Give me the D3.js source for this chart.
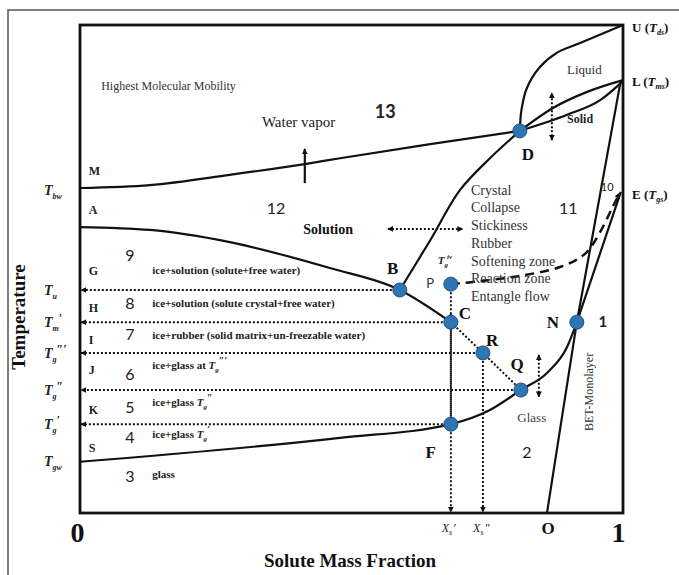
<!DOCTYPE html>
<meta charset="utf-8">
<style>
    body { margin: 0; background: #fff; }
    svg { display: block; }
    .serif { font-family: "Liberation Serif", "Times New Roman", serif; }
    .sans { font-family: Lato, "Open Sans", sans-serif; }
</style>
<svg class="chart" width="679" height="575"></svg>
<script src="https://d3js.org/d3.v7.min.js"></script>
<script>

    // solute mass fraction (0..1) vs temperature (arbitrary units 0..100)
    const boilingX = [0, 0.129, 0.276, 0.414, 0.479, 0.645, 0.810];
    const boilingY = [66.6, 67.2, 69.3, 71.5, 72.7, 75.6, 78.3];

    const decompX = [0.810, 0.813, 0.823, 0.847, 0.878, 0.921, 1.0];
    const decompY = [78.3, 82.6, 87.1, 91.4, 94.3, 96.3, 100];

    const liquidusX = [0.810, 0.871, 0.934, 1.0];
    const liquidusY = [78.3, 83.0, 86.3, 88.7];

    const solidusX = [0.810, 0.897, 0.958, 1.0];
    const solidusY = [78.3, 81.6, 84.6, 88.5];

    const solubilityX = [0.810, 0.755, 0.700, 0.645, 0.589];
    const solubilityY = [78.3, 72.7, 66.2, 55.9, 45.7];

    const freezingX = [0, 0.129, 0.276, 0.460, 0.589, 0.683];
    const freezingY = [58.6, 58.0, 55.5, 50.2, 45.7, 39.1];

    const glassX = [0, 0.479, 0.683, 0.755, 0.812, 0.860, 0.897, 0.915, 0.996];
    const glassY = [10.5, 15.4, 18.2, 21.1, 25.2, 28.7, 34.0, 39.1, 65.8];

    const betX = [0.860, 0.915, 0.996];
    const betY = [0, 39.1, 88.7];

    const softX = [0.683, 0.737, 0.810, 0.884, 0.930, 0.958, 0.980, 0.994];
    const softY = [46.9, 47.5, 48.6, 50.4, 53.1, 57.6, 62.5, 65.6];

    const pointNames = ["D", "B", "P", "C", "R", "Q", "F", "N"];
    const pointX = [0.810, 0.589, 0.683, 0.683, 0.742, 0.812, 0.683, 0.915];
    const pointY = [78.3, 45.7, 46.9, 39.1, 32.8, 25.2, 18.2, 39.1];

    // temperature levels on the y axis: [base, subscript, superscript]
    const levelValues = [66.6, 45.7, 39.1, 32.8, 25.2, 18.2, 10.5];
    const levelSub = ["bw", "u", "m", "g", "g", "g", "gw"];
    const levelSup = ["", "", "\u2032", "\u2033\u2032", "\u2033", "\u2032", ""];

    // horizontal dotted arrows: from point to the axis
    const levelFrom = ["B", "C", "R", "Q", "F"];
    // vertical dotted arrows: from point down to the axis
    const dropFrom = ["P", "R"];

    const regionNumbers = ["13", "12", "11", "10", "9", "8", "7", "6", "5", "4", "3", "2", "1"];
    const regionX = [0.562, 0.361, 0.899, 0.971, 0.092, 0.092, 0.092, 0.092, 0.092, 0.092, 0.092, 0.823, 0.963];
    const regionY = [82.2, 62.5, 62.5, 66.8, 52.7, 43.0, 36.5, 28.3, 21.7, 15.4, 7.6, 12.5, 39.1];

    const sideLetters = ["M", "A", "G", "H", "I", "J", "K", "S"];
    const sideY = [70.1, 62.1, 49.6, 42.0, 35.5, 29.3, 21.1, 13.3];

    const zoneText = ["ice+solution (solute+free water)", "ice+solution (solute crystal+free water)",
        "ice+rubber (solid matrix+un-freezable water)", "ice+glass at ", "ice+glass ", "ice+glass ", "glass"];
    const zoneSup = ["", "", "", "\u2033\u2032", "\u2033", "\u2032", ""];
    const zoneY = [49.8, 43.0, 36.5, 30.3, 22.7, 16.2, 8.0];

    const stateWords = ["Crystal", "Collapse", "Stickiness", "Rubber", "Softening zone", "Reaction zone", "Entangle flow"];
    const stateY = [66.2, 62.7, 59.0, 55.3, 51.6, 48.2, 44.5];

    const svg = d3.select(".chart");

    const x = d3.scaleLinear().domain([0, 1]).range([80, 623]);
    const y = d3.scaleLinear().domain([0, 100]).range([513, 25]);

    const defs = svg.append("defs");
    const marker = (id, orient) => defs.append("marker")
        .attr("id", id)
        .attr("viewBox", "0 0 10 10")
        .attr("refX", 9).attr("refY", 5)
        .attr("markerWidth", 6).attr("markerHeight", 6)
        .attr("markerUnits", "userSpaceOnUse")
        .attr("orient", orient)
        .append("path")
        .attr("d", "M0,0 L10,5 L0,10 Z")
        .attr("fill", "#111");
    marker("arrow", "auto");
    marker("arrowStart", "auto-start-reverse");

    // outer frame (cropped figure border)
    svg.append("path")
        .attr("d", "M8,575 L8,10 L679,10")
        .attr("fill", "none")
        .attr("stroke", "#555")
        .attr("stroke-width", 1.5);

    const line = d3.line().x(d => x(d[0])).y(d => y(d[1]));
    const smooth = d3.line().x(d => x(d[0])).y(d => y(d[1])).curve(d3.curveMonotoneX);
    const smoothY = d3.line().x(d => x(d[0])).y(d => y(d[1])).curve(d3.curveCatmullRom);
    const zip = (a, b) => a.map((v, i) => [v, b[i]]);

    const curves = [
        [zip(boilingX, boilingY), smooth],
        [zip(decompX, decompY), smoothY],
        [zip(liquidusX, liquidusY), smooth],
        [zip(solidusX, solidusY), smooth],
        [zip(solubilityX, solubilityY), smoothY],
        [zip(freezingX, freezingY), smooth],
        [zip(glassX.slice(0, 8), glassY.slice(0, 8)), smooth],
        [zip(glassX.slice(7), glassY.slice(7)), line],
        [zip(betX, betY), line]
    ];

    svg.append("g").selectAll("path")
        .data(curves)
        .join("path")
        .attr("d", d => d[1](d[0]))
        .attr("fill", "none")
        .attr("stroke", "#111")
        .attr("stroke-width", 2.2);

    // softening / reaction dashed curve toward E
    svg.append("path")
        .attr("d", smoothY(zip(softX, softY)))
        .attr("fill", "none")
        .attr("stroke", "#111")
        .attr("stroke-width", 2.5)
        .attr("stroke-dasharray", "9,6")
        .attr("marker-end", "url(#arrow)");

    const pt = name => {
        const i = pointNames.indexOf(name);
        return [pointX[i], pointY[i]];
    };

    const dotted = svg.append("g")
        .attr("fill", "none")
        .attr("stroke", "#111")
        .attr("stroke-width", 2)
        .attr("stroke-dasharray", "2,2");

    levelFrom.forEach(n => {
        const p = pt(n);
        dotted.append("line")
            .attr("x1", x(p[0])).attr("y1", y(p[1]))
            .attr("x2", x(0) + 1).attr("y2", y(p[1]))
            .attr("marker-end", "url(#arrow)");
    });

    dropFrom.forEach(n => {
        const p = pt(n);
        dotted.append("line")
            .attr("x1", x(p[0])).attr("y1", y(p[1]))
            .attr("x2", x(p[0])).attr("y2", y(0) - 1)
            .attr("marker-end", "url(#arrow)");
    });

    // up arrow toward C and the C-R-Q tie line
    dotted.append("line")
        .attr("x1", x(pt("C")[0])).attr("y1", y(pt("F")[1]))
        .attr("x2", x(pt("C")[0])).attr("y2", y(pt("C")[1]) - 9)
        .attr("marker-end", "url(#arrow)");
    dotted.append("path")
        .attr("d", line([pt("C"), pt("R"), pt("Q")]));

    // double-headed dotted arrows
    const twoWay = [
        [[0.567, 58.2], [0.705, 58.2]],
        [[0.869, 76.4], [0.869, 86.1]],
        [[0.845, 23.8], [0.845, 32.4]]
    ];
    twoWay.forEach(d => {
        dotted.append("path")
            .attr("d", line(d))
            .attr("marker-start", "url(#arrowStart)")
            .attr("marker-end", "url(#arrow)");
    });

    // water vapour arrow
    svg.append("path")
        .attr("d", line([[0.414, 67.6], [0.414, 74.6]]))
        .attr("stroke", "#111")
        .attr("stroke-width", 2.2)
        .attr("marker-end", "url(#arrow)");

    // plot frame
    svg.append("rect")
        .attr("x", x(0)).attr("y", y(100))
        .attr("width", x(1) - x(0)).attr("height", y(0) - y(100))
        .attr("fill", "none")
        .attr("stroke", "#111")
        .attr("stroke-width", 2.8);

    // x axis: only 0 and 1
    const xAxis = svg.append("g")
        .attr("transform", `translate(0,${y(0)})`)
        .call(d3.axisBottom(x).tickValues([0, 1]).tickSize(0).tickFormat(d3.format("d")));
    xAxis.select(".domain").remove();
    xAxis.selectAll("text")
        .attr("class", "serif")
        .attr("font-size", 28)
        .attr("font-weight", "bold")
        .attr("fill", "#111")
        .attr("dy", "0.3em")
        .attr("y", 21)
        .attr("dx", (d, i) => i === 0 ? -3 : -5);

    // y axis: temperature levels
    const yAxis = svg.append("g")
        .attr("transform", `translate(${x(0)},0)`)
        .call(d3.axisLeft(y).tickValues(levelValues).tickSize(0).tickFormat(""));
    yAxis.select(".domain").remove();
    yAxis.selectAll(".tick text")
        .attr("class", "serif")
        .attr("text-anchor", "start")
        .attr("x", -36)
        .attr("dy", "0.3em")
        .attr("font-size", 14)
        .attr("font-style", "italic")
        .attr("font-weight", "bold")
        .attr("fill", "#222")
        .each(function (d, i) {
            const t = d3.select(this).text("");
            t.append("tspan").text("T");
            t.append("tspan").attr("font-size", 8).attr("dy", 4).text(levelSub[i]);
            if (levelSup[i]) t.append("tspan").attr("font-size", 12).attr("dy", -9).attr("dx", 0).text(levelSup[i]);
        });
    yAxis.select(".tick").attr("transform", `translate(0,${y(levelValues[0]) + 3})`);

    // points
    svg.append("g").selectAll("circle")
        .data(pointNames)
        .join("circle")
        .attr("cx", (d, i) => x(pointX[i]))
        .attr("cy", (d, i) => y(pointY[i]))
        .attr("r", 7)
        .attr("fill", "#2e75b6")
        .attr("stroke", "#1f4e79")
        .attr("stroke-width", 1);

    const text = (str, xv, yv, opt) => svg.append("text")
        .attr("class", opt.cls || "serif")
        .attr("x", x(xv)).attr("y", y(yv))
        .attr("dy", "0.35em")
        .attr("text-anchor", opt.anchor || "start")
        .attr("font-size", opt.size || 12)
        .attr("font-weight", opt.bold ? "bold" : null)
        .attr("font-style", opt.italic ? "italic" : null)
        .attr("fill", opt.color || "#111")
        .text(str);

    // point labels
    const labelX = [0.825, 0.576, 0.645, 0.709, 0.759, 0.805, 0.646, 0.871];
    const labelY = [73.6, 50.2, 47.1, 41.0, 35.5, 30.5, 12.5, 39.1];
    pointNames.forEach((n, i) => {
        if (n === "P") text(n, labelX[i], labelY[i], {anchor: "middle", size: 13, cls: "sans", color: "#333"});
        else text(n, labelX[i], labelY[i], {anchor: "middle", size: 17, bold: true});
    });

    const tg4 = text("T", 0.672, 51.8, {anchor: "middle", size: 11, italic: true, bold: true, color: "#222"});
    tg4.append("tspan").attr("font-size", 7).attr("dy", 3).text("g");
    tg4.append("tspan").attr("font-size", 7).attr("dy", -8).attr("dx", -1).text("iv");

    // region numbers
    regionNumbers.forEach((n, i) => {
        const big = n === "13";
        text(n, regionX[i], regionY[i], {
            anchor: "middle", cls: "sans",
            size: n === "10" ? 11 : (big ? 18 : (n === "1" ? 15 : 16)),
            bold: big || n === "1", color: "#222"
        });
    });

    sideLetters.forEach((n, i) => text(n, 0.016, sideY[i], {size: 12, bold: true, color: "#222"}));

    zoneText.forEach((s, i) => {
        const t = text(s, 0.133, zoneY[i], {size: 11, bold: true, color: "#222"});
        if (zoneSup[i]) {
            t.append("tspan").attr("font-style", "italic").text("T");
            t.append("tspan").attr("font-style", "italic").attr("font-size", 7).attr("dy", 3).text("g");
            t.append("tspan").attr("font-style", "italic").attr("font-size", 10).attr("dy", -8).text(zoneSup[i]);
        }
    });

    stateWords.forEach((s, i) => text(s, 0.720, stateY[i], {size: 14, color: "#333"}));

    text("Highest Molecular Mobility", 0.039, 87.5, {size: 12, color: "#333"});
    text("Water vapor", 0.335, 80.1, {size: 15, color: "#222"});
    text("Solution", 0.457, 58.2, {anchor: "middle", size: 14, bold: true});
    text("Liquid", 0.897, 90.8, {size: 13, color: "#333"});
    text("Solid", 0.897, 80.7, {size: 12, bold: true, color: "#222"});
    text("Glass", 0.832, 19.5, {anchor: "middle", size: 13, color: "#444"});
    text("O", 0.862, -3.1, {anchor: "middle", size: 17, bold: true});

    svg.append("text")
        .attr("class", "serif")
        .attr("transform", `translate(${x(0.937)},${y(24.8)}) rotate(-90)`)
        .attr("text-anchor", "middle")
        .attr("dy", "0.35em")
        .attr("font-size", 12)
        .attr("fill", "#333")
        .text("BET-Monolayer");

    // right-side end labels
    const endNames = ["U", "L", "E"];
    const endSub = ["ds", "ms", "gs"];
    const endY = [99.6, 88.5, 65.2];
    endNames.forEach((n, i) => {
        const t = svg.append("text")
            .attr("class", "serif")
            .attr("x", x(1) + 9).attr("y", y(endY[i]))
            .attr("dy", "0.35em")
            .attr("font-size", 13)
            .attr("font-weight", "bold")
            .attr("fill", "#111");
        t.append("tspan").text(n + " (");
        t.append("tspan").attr("font-style", "italic").text("T");
        t.append("tspan").attr("font-style", "italic").attr("font-size", 8).attr("dy", 3).text(endSub[i]);
        t.append("tspan").attr("dy", -3).text(")");
    });

    // X_s labels
    ["\u2032", "\u2033"].forEach((s, i) => {
        const t = text("X", i === 0 ? 0.679 : 0.739, -3.1, {anchor: "middle", size: 12, italic: true, color: "#222"});
        t.append("tspan").attr("font-size", 8).attr("dy", 3).text("s");
        t.append("tspan").attr("dy", -3).attr("dx", 1).text(s);
    });

    // axis titles
    svg.append("text")
        .attr("class", "serif")
        .attr("x", 350).attr("y", 560)
        .attr("dy", "0.35em")
        .attr("text-anchor", "middle")
        .attr("font-size", 19)
        .attr("font-weight", "bold")
        .attr("fill", "#111")
        .text("Solute Mass Fraction");

    svg.append("text")
        .attr("class", "serif")
        .attr("transform", "translate(18,317) rotate(-90)")
        .attr("dy", "0.35em")
        .attr("text-anchor", "middle")
        .attr("font-size", 19)
        .attr("font-weight", "bold")
        .attr("fill", "#111")
        .text("Temperature");

</script>
